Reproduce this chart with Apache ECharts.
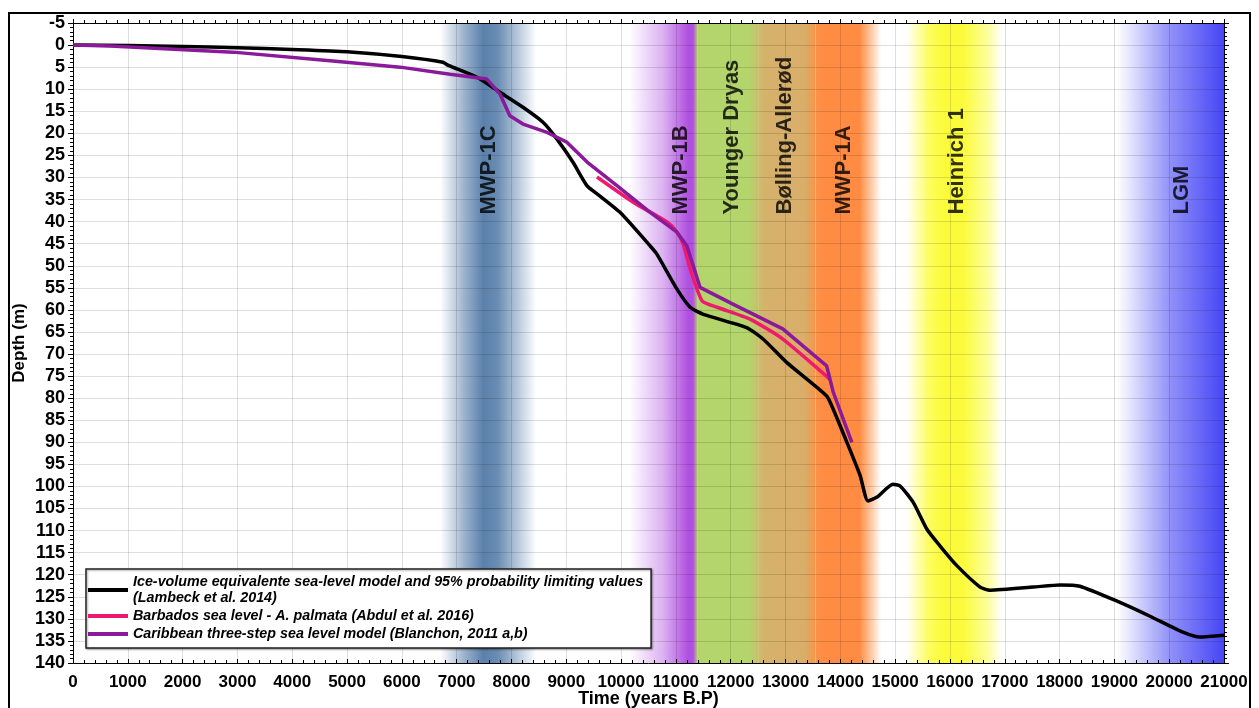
<!DOCTYPE html>
<html>
<head>
<meta charset="utf-8">
<script src="https://cdn.jsdelivr.net/npm/echarts@6/dist/echarts.min.js"></script>
<style>
	html, body { margin: 0; padding: 0; background: #fff; }
	#chart { width: 1259px; height: 708px; }
</style>
</head>
<body>
<div id="chart"></div>
<script>
// ---------------- data ----------------
var lambeckYear = [0, 1000, 2000, 3000, 4000, 5000, 6000, 6750, 6850, 7370, 7790, 8210, 8575, 8830, 9120, 9380, 9615, 9980, 10530, 10650, 11020, 11260, 11500, 12290, 12590, 13020, 13750, 13870, 14120, 14360, 14505, 14670, 14960, 15090, 15330, 15580, 15820, 16130, 16550, 16730, 17520, 18010, 18370, 19050, 19650, 20250, 20560, 21000];
var lambeckDepth = [0, 0.1, 0.3, 0.6, 1.0, 1.5, 2.6, 3.9, 4.6, 7.3, 10.7, 14.1, 17.5, 21.3, 26.5, 31.9, 34.2, 37.9, 45.5, 47.3, 55.3, 59.4, 61, 64, 66.6, 71.9, 79.5, 82.5, 90, 97.5, 103.3, 102.4, 99.5, 99.9, 103.6, 109.7, 113.5, 118, 122.8, 123.5, 122.8, 122.3, 122.6, 126, 129.4, 133, 134.1, 133.7];

var barbadosYear = [9560, 10220, 10840, 11020, 11130, 11260, 11480, 11750, 12350, 12950, 13810];
var barbadosDepth = [29.9, 35.6, 40.1, 42.4, 45, 50.7, 58, 59.4, 62.1, 66.6, 75.7];

var blanchonYear = [0, 675, 2920, 4740, 5970, 6880, 7550, 7790, 7970, 8210, 8650, 9010, 9380, 9930, 10530, 11020, 11200, 11440, 12040, 12950, 13750, 13870, 14210];
var blanchonDepth = [0, 0.2, 1.6, 3.6, 5.0, 6.6, 7.7, 11.1, 16, 17.9, 19.8, 22, 26.5, 31.9, 37.9, 42.4, 45.5, 54.9, 58.7, 64.3, 72.7, 78.6, 90];

var seriesNames = [
	'Ice-volume equivalente sea-level model and 95% probability limiting values\n(Lambeck et al. 2014)',
	'Barbados sea level - A. palmata (Abdul et al. 2016)',
	'Caribbean three-step sea level model (Blanchon, 2011 a,b)'
];

// climate events (years B.P.)
var bandNames = ['MWP-1C', 'MWP-1B', 'Younger Dryas', 'Bølling-Allerød', 'MWP-1A', 'Heinrich 1', 'LGM'];
var bandFrom = [6700, 10150, 11400, 12500, 13550, 15200, 19050];
var bandTo = [8450, 11400, 12500, 13550, 14750, 16950, 21000];
var labelYear = [7590, 11110, 12040, 12990, 14070, 16130, 20250];
var labelDepth = 38.5;

// ---------------- styles ----------------
var lineColors = ['#000000', '#ef1a6e', '#8a1a99'];
var bandStops = [
	[[0, 'rgba(90,128,171,0)'], [0.25, 'rgba(90,128,171,0.6)'], [0.45, 'rgba(90,128,171,1)'], [0.6, 'rgba(90,128,171,0.9)'], [1, 'rgba(90,128,171,0)']],
	[[0, 'rgba(176,80,224,0)'], [0.5, 'rgba(176,80,224,0.45)'], [0.86, 'rgba(176,80,224,1)'], [0.93, 'rgba(176,80,224,1)'], [1, '#b3d56b']],
	[[0, '#b3d56b'], [0.85, '#b3d56b'], [1, '#c9c06b']],
	[[0, '#c9c06b'], [0.12, '#d5b16c'], [0.8, '#d9ae6a'], [1, '#f6954a']],
	[[0, '#f6954a'], [0.1, '#ff8c42'], [0.67, '#ff8c42'], [0.85, 'rgba(255,150,80,0.5)'], [1, 'rgba(255,170,100,0)']],
	[[0, 'rgba(252,252,60,0)'], [0.25, 'rgba(252,252,60,0.85)'], [0.4, '#fbfb3c'], [0.6, '#fbfb3c'], [0.85, 'rgba(252,252,60,0.5)'], [1, 'rgba(252,252,60,0)']],
	[[0, 'rgba(70,70,245,0)'], [0.5, 'rgba(70,70,245,0.6)'], [1, 'rgba(70,70,245,1)']]
];
var gridColor = 'rgba(0,0,0,0.13)';

function zip(xs, ys) {
	var out = [];
	for (var i = 0; i < xs.length; i++) {
		out.push([xs[i], ys[i]]);
	}
	return out;
}

function makeBands() {
	var areas = [];
	for (var i = 0; i < bandNames.length; i++) {
		var stops = [];
		bandStops[i].forEach(function(s) {
			stops.push({ offset: s[0], color: s[1] });
		});
		areas.push([{
			xAxis: bandFrom[i],
			itemStyle: {
				color: { type: 'linear', x: 0, y: 0, x2: 1, y2: 0, colorStops: stops }
			}
		}, {
			xAxis: bandTo[i]
		}]);
	}
	return areas;
}

var font = 'Liberation Sans, Arial, sans-serif';
var myChart = echarts.init(document.getElementById('chart'));

var option = {
	animation: false,
	grid: { left: 73, right: 35, top: 23, bottom: 45, outerBoundsMode: 'none', containLabel: false },
	graphic: [{
		type: 'rect',
		shape: { x: 9, y: 13, width: 1241, height: 720 },
		style: { fill: 'none', stroke: '#000', lineWidth: 2 },
		z: 100
	}],
	legend: {
		data: seriesNames,
		orient: 'vertical',
		left: 86,
		top: 569,
		icon: 'rect',
		itemWidth: 40,
		itemHeight: 4,
		itemGap: 2,
		padding: [5, 8, 6, 2],
		backgroundColor: '#fff',
		borderColor: '#222',
		borderWidth: 1.5,
		shadowColor: 'rgba(0,0,0,0.35)',
		shadowOffsetX: 1,
		shadowOffsetY: 1,
		shadowBlur: 2,
		textStyle: {
			fontFamily: font,
			fontStyle: 'italic',
			fontWeight: 'bold',
			fontSize: 14.3,
			lineHeight: 16,
			color: '#000'
		}
	},
	xAxis: [{
		type: 'value',
		min: 0,
		max: 21000,
		interval: 1000,
		z: 2,
		name: 'Time (years B.P)',
		nameLocation: 'middle',
		nameGap: 27,
		nameMoveOverlap: false,
		nameTextStyle: { fontFamily: font, fontWeight: 'bold', fontSize: 18, color: '#000' },
		axisLine: { show: true, onZero: false, lineStyle: { color: '#000', width: 1 } },
		axisTick: { show: true, inside: true, length: 4, lineStyle: { color: '#000' } },
		minorTick: { show: true, splitNumber: 5, length: 3, lineStyle: { color: '#000' } },
		axisLabel: {
			fontFamily: font, fontWeight: 'bold', fontSize: 17, color: '#000', margin: 11,
			formatter: function(v) { return String(v); }
		},
		splitLine: { show: true, lineStyle: { color: gridColor, width: 1 } }
	}, {
		type: 'value',
		position: 'top',
		min: 0,
		max: 21000,
		interval: 1000,
		z: 2,
		axisLine: { show: true, onZero: false, lineStyle: { color: '#000', width: 1 } },
		axisTick: { show: true, length: 4, lineStyle: { color: '#000' } },
		minorTick: { show: true, splitNumber: 5, length: 3, lineStyle: { color: '#000' } },
		axisLabel: { show: false },
		splitLine: { show: false }
	}],
	yAxis: [{
		type: 'value',
		inverse: true,
		min: -5,
		max: 140,
		interval: 5,
		z: 2,
		name: 'Depth (m)',
		nameLocation: 'middle',
		nameGap: 45,
		nameMoveOverlap: false,
		nameTextStyle: { fontFamily: font, fontWeight: 'bold', fontSize: 17, color: '#000' },
		axisLine: { show: true, onZero: false, lineStyle: { color: '#000', width: 1 } },
		axisTick: { show: true, length: 5, lineStyle: { color: '#000' } },
		minorTick: { show: true, splitNumber: 5, length: 3, lineStyle: { color: '#000' } },
		axisLabel: { fontFamily: font, fontWeight: 'bold', fontSize: 18, color: '#000', margin: 8 },
		splitLine: { show: true, lineStyle: { color: gridColor, width: 1 } }
	}, {
		type: 'value',
		position: 'right',
		inverse: true,
		min: -5,
		max: 140,
		interval: 5,
		z: 2,
		axisLine: { show: true, onZero: false, lineStyle: { color: '#000', width: 1 } },
		axisTick: { show: true, length: 5, lineStyle: { color: '#000' } },
		minorTick: { show: true, splitNumber: 5, length: 3, lineStyle: { color: '#000' } },
		axisLabel: { show: false },
		splitLine: { show: false }
	}],
	series: [{
		name: 'bands',
		type: 'line',
		data: [],
		z: 1,
		silent: true,
		markArea: { silent: true, data: makeBands() }
	}, {
		name: seriesNames[0],
		type: 'line',
		z: 3,
		data: zip(lambeckYear, lambeckDepth),
		showSymbol: false,
		smooth: 0.2,
		color: lineColors[0],
		lineStyle: { color: lineColors[0], width: 3.5 }
	}, {
		name: seriesNames[1],
		type: 'line',
		z: 3,
		data: zip(barbadosYear, barbadosDepth),
		showSymbol: false,
		smooth: 0.2,
		color: lineColors[1],
		lineStyle: { color: lineColors[1], width: 3.5 }
	}, {
		name: seriesNames[2],
		type: 'line',
		z: 4,
		data: zip(blanchonYear, blanchonDepth),
		showSymbol: false,
		color: lineColors[2],
		lineStyle: { color: lineColors[2], width: 3.5 }
	}, {
		name: 'labels',
		type: 'scatter',
		z: 5,
		silent: true,
		symbolSize: 1,
		itemStyle: { color: 'rgba(0,0,0,0)' },
		data: labelYear.map(function(y, i) {
			return { value: [y, labelDepth], name: bandNames[i] };
		}),
		label: {
			show: true,
			position: [0, 0],
			rotate: 90,
			align: 'left',
			verticalAlign: 'middle',
			formatter: '{b}',
			fontFamily: font,
			fontWeight: 'bold',
			fontSize: 22,
			color: '#000'
		}
	}]
};
myChart.setOption(option);
</script>
</body>
</html>
